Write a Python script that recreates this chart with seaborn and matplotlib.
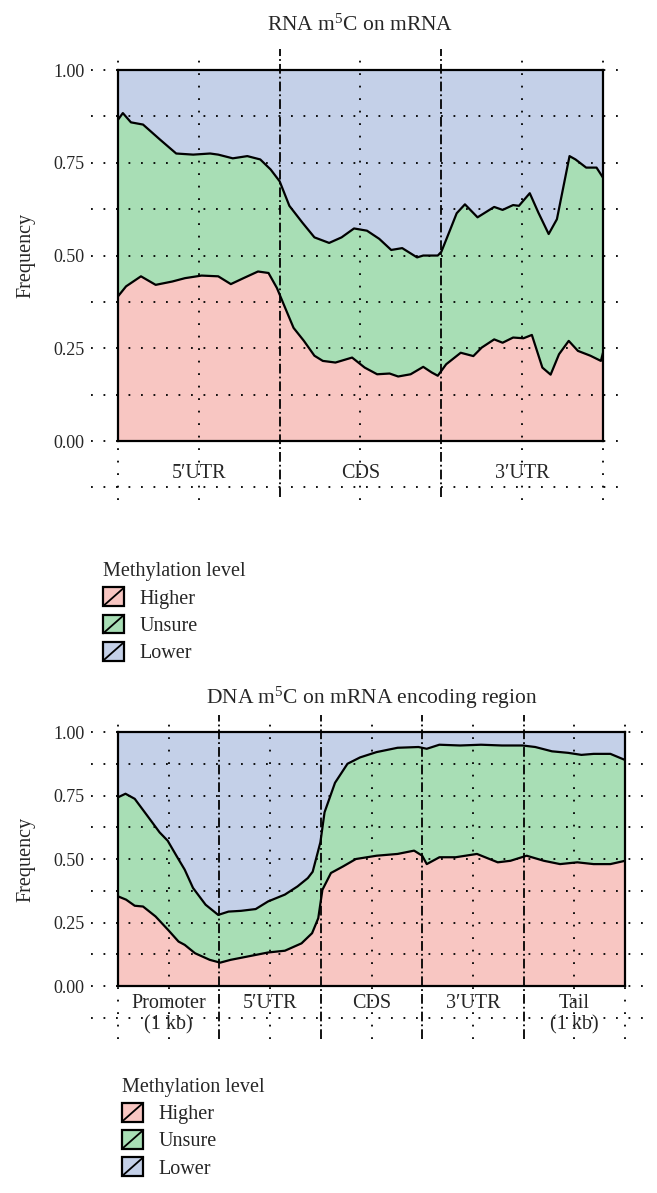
import numpy as np
import matplotlib
matplotlib.use("Agg")
import matplotlib.pyplot as plt
import seaborn as sns
from matplotlib.patches import Patch, Rectangle
from matplotlib.lines import Line2D
from matplotlib.legend_handler import HandlerBase

# ---------------- data ----------------
levels = ["Higher", "Unsure", "Lower"]
level_colors = ["#F8C6C2", "#A8DEB5", "#C4D0E8"]
yticks = [0.0, 0.25, 0.5, 0.75, 1.0]
ytick_labels = ["0.00", "0.25", "0.50", "0.75", "1.00"]

rna_title = "RNA m$^\\mathrm{5}$C on mRNA"
rna_regions = ["5\u2032UTR", "CDS", "3\u2032UTR"]
# cumulative Higher+Unsure (upper boundary)
rna_x_upper = [0, 0.03, 0.08, 0.155, 0.26, 0.36, 0.465, 0.57, 0.62, 0.71, 0.80, 0.88, 0.944,
               1.0, 1.06, 1.14, 1.215, 1.306, 1.383, 1.46, 1.54, 1.616, 1.69, 1.758, 1.85,
               1.888, 1.978, 2.0, 2.056, 2.095, 2.146, 2.224, 2.327, 2.379, 2.444, 2.48,
               2.547, 2.6, 2.664, 2.715, 2.793, 2.83, 2.896, 2.96, 3.0]
rna_upper = [0.866, 0.884, 0.859, 0.853, 0.8125, 0.775, 0.772, 0.775, 0.772, 0.762, 0.768,
             0.759, 0.732, 0.70, 0.634, 0.589, 0.549, 0.534, 0.549, 0.573, 0.567, 0.545,
             0.515, 0.52, 0.495, 0.50, 0.50, 0.51, 0.571, 0.614, 0.638, 0.603, 0.631, 0.623,
             0.636, 0.634, 0.668, 0.616, 0.558, 0.598, 0.768, 0.759, 0.737, 0.737, 0.71]
# Higher (lower boundary)
rna_x_lower = [0, 0.05, 0.142, 0.233, 0.336, 0.414, 0.517, 0.62, 0.698, 0.776, 0.866, 0.931,
               0.983, 1.034, 1.086, 1.15, 1.215, 1.267, 1.345, 1.448, 1.526, 1.603, 1.68,
               1.733, 1.81, 1.888, 1.94, 1.978, 2.03, 2.12, 2.198, 2.25, 2.327, 2.379, 2.444,
               2.508, 2.56, 2.625, 2.676, 2.728, 2.788, 2.845, 2.922, 2.987, 3.0]
rna_lower = [0.39, 0.417, 0.444, 0.421, 0.43, 0.439, 0.446, 0.444, 0.423, 0.439, 0.457, 0.453,
             0.4125, 0.359, 0.305, 0.27, 0.23, 0.216, 0.2116, 0.225, 0.198, 0.18, 0.182, 0.174,
             0.18, 0.2, 0.185, 0.176, 0.207, 0.238, 0.229, 0.252, 0.274, 0.265, 0.279, 0.277,
             0.286, 0.198, 0.179, 0.234, 0.27, 0.243, 0.23, 0.216, 0.238]

dna_title = "DNA m$^\\mathrm{5}$C on mRNA encoding region"
dna_regions = ["Promoter\n(1 kb)", "5\u2032UTR", "CDS", "3\u2032UTR", "Tail\n(1 kb)"]
dna_x_upper = [0, 0.074, 0.165, 0.288, 0.41, 0.49, 0.576, 0.658, 0.74, 0.864, 0.988, 1.09,
               1.214, 1.358, 1.48, 1.646, 1.77, 1.872, 1.92, 1.996, 2.037, 2.14, 2.263, 2.387,
               2.55, 2.757, 2.963, 3.045, 3.169, 3.374, 3.58, 3.786, 3.99, 4.115, 4.28, 4.44,
               4.57, 4.69, 4.856, 5.0]
dna_upper = [0.743, 0.757, 0.737, 0.671, 0.605, 0.572, 0.513, 0.458, 0.386, 0.32, 0.28, 0.293,
             0.296, 0.303, 0.333, 0.36, 0.392, 0.425, 0.45, 0.566, 0.684, 0.80, 0.875, 0.90,
             0.921, 0.938, 0.941, 0.934, 0.95, 0.947, 0.95, 0.947, 0.947, 0.941, 0.924, 0.918,
             0.91, 0.914, 0.914, 0.89]
dna_x_lower = [0, 0.08, 0.165, 0.247, 0.37, 0.494, 0.597, 0.658, 0.76, 0.905, 1.008, 1.11,
               1.276, 1.48, 1.646, 1.81, 1.914, 1.975, 2.016, 2.1, 2.22, 2.346, 2.55, 2.757,
               2.92, 3.0, 3.045, 3.17, 3.33, 3.54, 3.745, 3.87, 4.03, 4.2, 4.36, 4.53, 4.69,
               4.856, 5.0]
dna_lower = [0.353, 0.34, 0.316, 0.313, 0.274, 0.221, 0.175, 0.162, 0.129, 0.103, 0.092, 0.103,
             0.116, 0.132, 0.139, 0.168, 0.208, 0.267, 0.379, 0.445, 0.471, 0.5, 0.513, 0.52,
             0.533, 0.513, 0.48, 0.507, 0.507, 0.52, 0.487, 0.493, 0.513, 0.493, 0.48, 0.487,
             0.48, 0.48, 0.493]

# ---------------- style ----------------
sns.set_theme(style="white")
plt.rcParams["font.family"] = ["Liberation Serif", "DejaVu Serif"]
plt.rcParams["mathtext.fontset"] = "custom"
plt.rcParams["mathtext.rm"] = "Liberation Serif"
plt.rcParams["mathtext.it"] = "Liberation Serif:italic"
plt.rcParams["lines.scale_dashes"] = False

DOT = (0, (1.3, 7.7))
DASHDOT = (0, (7, 2.2, 1.3, 2.2))

fig = plt.figure(figsize=(6.57, 11.93), dpi=100)
ax1 = fig.add_axes([0.1796, 0.6303, 0.7382, 0.3110])
ax2 = fig.add_axes([0.1796, 0.1735, 0.7717, 0.2129])


def draw_panel(ax, n, title, regions, xu, yu, xl, yl, xext, vext, title_y, lab_y):
    ax.set_xlim(0, n)
    ax.set_ylim(0, 1)
    # stacked areas
    ax.axhspan(0, 1, color=level_colors[2], zorder=0.5, lw=0)
    ax.fill_between(xu, 0, yu, color=level_colors[1], lw=0, zorder=0.6)
    ax.fill_between(xl, 0, yl, color=level_colors[0], lw=0, zorder=0.7)
    # grid (extends outside the frame)
    for yv in np.arange(-0.125, 1.001, 0.125):
        ax.plot([xext[0], xext[1]], [yv, yv], ls=DOT, color="black", lw=1.3,
                clip_on=False, zorder=1)
    vx = [0, n] + [i + 0.5 for i in range(n)]
    for xv in vx:
        ax.plot([xv, xv], [vext[0], vext[1]], ls=DOT, color="black", lw=1.3,
                clip_on=False, zorder=1)
    for xv in range(1, n):
        ax.plot([xv, xv], [vext[2], vext[3]], ls=DASHDOT, color="black", lw=1.3,
                clip_on=False, zorder=1)
    # boundary curves
    sns.lineplot(x=xu, y=yu, ax=ax, color="black", lw=1.6, zorder=3, sort=False)
    sns.lineplot(x=xl, y=yl, ax=ax, color="black", lw=1.6, zorder=3, sort=False)
    for s in ax.spines.values():
        s.set_visible(True)
        s.set_color("black")
        s.set_linewidth(1.6)
        s.set_zorder(4)
    ax.set_xticks([])
    ax.set_yticks(yticks)
    ax.set_yticklabels(ytick_labels, fontsize=13)
    ax.tick_params(axis="y", length=0, pad=24)
    ax.set_xlabel("")
    ax.set_ylabel("Frequency", fontsize=14.5)
    ax.text(n / 2, title_y, title, ha="center", va="center", fontsize=15.5,
            transform=ax.transData, clip_on=False)
    for i, lab in enumerate(regions):
        ax.text(i + 0.5, lab_y, lab, ha="center", va="top", fontsize=14.5,
                linespacing=1.15, clip_on=False)
    ax.grid(False)


draw_panel(ax1, 3, rna_title, rna_regions, rna_x_upper, rna_upper, rna_x_lower, rna_lower,
           xext=(-0.17, 3.1), vext=(-0.16, 1.027, -0.15, 1.057), title_y=1.12, lab_y=-0.062)
ax1.yaxis.set_label_coords(-0.17, 0.5)
draw_panel(ax2, 5, dna_title, dna_regions, dna_x_upper, dna_upper, dna_x_lower, dna_lower,
           xext=(-0.27, 5.18), vext=(-0.21, 1.04, -0.21, 1.067), title_y=1.135, lab_y=-0.03)
ax2.yaxis.set_label_coords(-0.163, 0.5)


class DiagHandler(HandlerBase):
    def create_artists(self, legend, orig_handle, xdescent, ydescent, width, height,
                       fontsize, trans):
        r = Rectangle((-xdescent, -ydescent), width, height,
                      facecolor=orig_handle.get_facecolor(), edgecolor="black",
                      lw=1.6, transform=trans)
        ln = Line2D([-xdescent, -xdescent + width], [-ydescent, -ydescent + height],
                    color="black", lw=1.3, transform=trans)
        return [r, ln]


handles = [Patch(facecolor=c, label=l) for c, l in zip(level_colors, levels)]
for anchor in [(0.1416, 0.5370), (0.1705, 0.1050)]:
    leg = fig.legend(handles=handles, labels=levels, title="Methylation level",
                     loc="upper left", bbox_to_anchor=anchor, frameon=False,
                     fontsize=14.5, title_fontsize=14.5, borderpad=0,
                     handlelength=1.05, handleheight=1.05, labelspacing=0.3,
                     handletextpad=0.75, alignment="left",
                     handler_map={Patch: DiagHandler()})

fig.savefig("out.png", dpi=100)
